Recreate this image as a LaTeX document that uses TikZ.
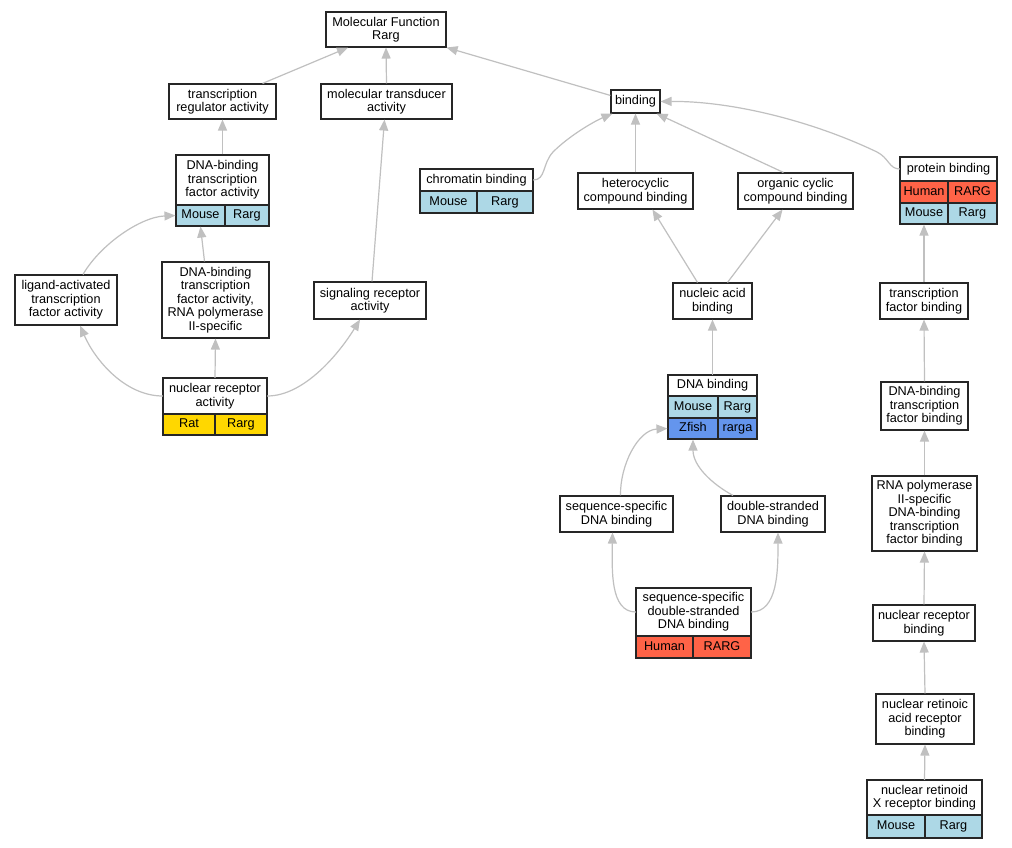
\documentclass[tikz,border=0pt]{standalone}
\usepackage{fontspec}
\setmainfont{Liberation Sans}
\usetikzlibrary{arrows.meta}
\definecolor{edgegray}{HTML}{C0C0C0}
\definecolor{lb}{HTML}{ADD8E6}
\definecolor{tom}{HTML}{FF6347}
\definecolor{gld}{HTML}{FFD700}
\definecolor{cfb}{HTML}{6495ED}
\newcommand\gvfont{\fontsize{12.7}{13.5}\selectfont}
\tikzset{
 box/.style={draw=black!85, line width=1.1pt, fill=white, inner sep=0pt, align=center, font=\gvfont},
 lbl/.style={inner sep=0pt, align=center, font=\gvfont},
 oneline/.style={text height=9.2pt, text depth=2.8pt},
 cell/.style={draw=black!85, line width=1.1pt, inner sep=0pt, font=\gvfont, oneline},
 edge/.style={draw=edgegray, line width=1.2pt, -{Triangle[length=11pt,width=9pt]}},
}
\newcommand\gbox[6]{\node[box, minimum width={#4-#2}, minimum height={#5-#3}] (#1) at ({(#2+#4)/2},{(#3+#5)/2}) {#6};}
\newcommand\ghead[7][]{\node[lbl, minimum width={#5-#3}, minimum height={#6-#4}, #1] (#2) at ({(#3+#5)/2},{(#4+#6)/2}) {#7};}
\newcommand\gcell[7]{\node[cell, fill=#6, minimum width={#4-#2}, minimum height={#5-#3}] (#1) at ({(#2+#4)/2},{(#3+#5)/2}) {#7};}
\begin{document}
\begin{tikzpicture}[x=1pt,y=-1pt]
\useasboundingbox[fill=white] (0,0) rectangle (1012,848);
% left part
\gbox{mf}{326}{12}{446}{47}{Molecular Function\\Rarg}
\gbox{treg}{169}{84}{276}{119}{transcription\\regulator activity}
\gbox{mtrans}{321}{84}{452}{119}{molecular transducer\\activity}
\gbox{dbtf}{176}{155}{269}{226}{}
\ghead{dbtfh}{176}{155}{269}{205}{DNA-binding\\transcription\\factor activity}
\gcell{dbtfa}{176}{205}{225}{226}{lb}{Mouse}
\gcell{dbtfb}{225}{205}{269}{226}{lb}{Rarg}
\gbox{lig}{15}{275}{117}{325}{ligand-activated\\transcription\\factor activity}
\gbox{rnap}{162}{262}{269}{338}{DNA-binding\\transcription\\factor activity,\\RNA polymerase\\II-specific}
\gbox{sig}{314}{282}{426}{319}{signaling receptor\\activity}
\gbox{nra}{163}{378}{267}{435}{}
\ghead{nrah}{163}{378}{267}{414}{nuclear receptor\\activity}
\gcell{nraa}{163}{414}{215}{435}{gld}{Rat}
\gcell{nrab}{215}{414}{267}{435}{gld}{Rarg}
% middle
\gbox{binding}{611}{90}{660}{113}{binding}
\gbox{chrom}{420}{169}{533}{213}{}
\ghead[oneline]{chromh}{420}{169}{533}{191}{chromatin binding}
\gcell{chroma}{420}{191}{477}{213}{lb}{Mouse}
\gcell{chromb}{477}{191}{533}{213}{lb}{Rarg}
\gbox{het}{578}{173}{693}{209}{heterocyclic\\compound binding}
\gbox{org}{738}{173}{853}{209}{organic cyclic\\compound binding}
\gbox{nuc}{673}{283}{752}{319}{nucleic acid\\binding}
\gbox{dnab}{668}{375}{757}{439}{}
\ghead[oneline]{dnabh}{668}{375}{757}{396}{DNA binding}
\gcell{dnab1a}{668}{396}{718}{418}{lb}{Mouse}
\gcell{dnab1b}{718}{396}{757}{418}{lb}{Rarg}
\gcell{dnab2a}{668}{418}{718}{439}{cfb}{Zfish}
\gcell{dnab2b}{718}{418}{757}{439}{cfb}{rarga}
\gbox{seqs}{560}{496}{673}{532}{sequence-specific\\DNA binding}
\gbox{dsd}{721}{496}{825}{532}{double-stranded\\DNA binding}
\gbox{ssds}{636}{588}{751}{658}{}
\ghead{ssdsh}{636}{588}{751}{636}{sequence-specific\\double-stranded\\DNA binding}
\gcell{ssdsa}{636}{636}{693}{658}{tom}{Human}
\gcell{ssdsb}{693}{636}{751}{658}{tom}{RARG}
% right
\gbox{prot}{900}{157}{997}{224}{}
\ghead[oneline]{proth}{900}{157}{997}{181}{protein binding}
\gcell{prot1a}{900}{181}{948}{203}{tom}{Human}
\gcell{prot1b}{948}{181}{997}{203}{tom}{RARG}
\gcell{prot2a}{900}{203}{948}{224}{lb}{Mouse}
\gcell{prot2b}{948}{203}{997}{224}{lb}{Rarg}
\gbox{tfb}{880}{283}{968}{319}{transcription\\factor binding}
\gbox{dbtfbd}{881}{382}{968}{430}{DNA-binding\\transcription\\factor binding}
\gbox{rnapb}{872}{476}{977}{551}{RNA polymerase\\II-specific\\DNA-binding\\transcription\\factor binding}
\gbox{nrb}{873}{605}{975}{641}{nuclear receptor\\binding}
\gbox{nrab2}{876}{694}{974}{744}{nuclear retinoic\\acid receptor\\binding}
\gbox{nrxb}{867}{780}{982}{838}{}
\ghead{nrxbh}{867}{780}{982}{815}{nuclear retinoid\\X receptor binding}
\gcell{nrxba}{867}{815}{925}{838}{lb}{Mouse}
\gcell{nrxbb}{925}{815}{982}{838}{lb}{Rarg}
% edges
\draw[edge] ([xshift=40pt]treg.north) -- ([xshift=-38pt]mf.south);
\draw[edge] (mtrans.north) -- (mf.south);
\draw[edge] ([yshift=-6pt]binding.north west) -- (mf.south east);
\draw[edge] (dbtf.north) -- (treg.south);
\draw[edge] ([xshift=17pt]lig.north) .. controls (100,245) and (140,217) .. (dbtfa.west);
\draw[edge] ([xshift=-11pt]rnap.north) -- (dbtfa.south);
\draw[edge] ([xshift=2pt]sig.north) -- ([xshift=-2pt]mtrans.south);
\draw[edge] (nrah.west) .. controls (125,396) and (95,360) .. ([xshift=14pt]lig.south);
\draw[edge] (nrah.north) -- (rnap.south);
\draw[edge] (nrah.east) .. controls (305,396) and (340,352) .. ([xshift=-10pt]sig.south);
\draw[edge] (chromh.east) .. controls (546,180) and (542,164) .. (553,152) .. controls (570,135) and (595,121) .. ([xshift=2pt]binding.south west);
\draw[edge] (het.north) -- (binding.south);
\draw[edge] ([xshift=-12pt]org.north) -- ([xshift=-4pt]binding.south east);
\draw[edge] (proth.west) .. controls (889,169) and (889,158) .. (877,152) .. controls (810,120) and (730,101) .. (binding.east);
\draw[edge] ([xshift=-15pt]nuc.north) -- ([xshift=17pt]het.south);
\draw[edge] ([xshift=15pt]nuc.north) -- ([xshift=-13pt]org.south);
\draw[edge] (dnabh.north) -- (nuc.south);
\draw[edge] ([xshift=4pt]seqs.north) .. controls (620,465) and (638,430) .. (dnab2a.west);
\draw[edge] ([xshift=-40pt]dsd.north) .. controls (712,484) and (693,466) .. (dnab2a.south);
\draw[edge] (ssdsh.west) .. controls (610,612) and (612,570) .. ([xshift=-4pt]seqs.south);
\draw[edge] (ssdsh.east) .. controls (778,612) and (778,570) .. ([xshift=5pt]dsd.south);
\draw[edge] (tfb.north) -- (prot2a.south);
\draw[edge] (dbtfbd.north) -- (tfb.south);
\draw[edge] (rnapb.north) -- (dbtfbd.south);
\draw[edge] (nrb.north) -- (rnapb.south);
\draw[edge] (nrab2.north) -- (nrb.south);
\draw[edge] (nrxbh.north) -- (nrab2.south);
\end{tikzpicture}
\end{document}
